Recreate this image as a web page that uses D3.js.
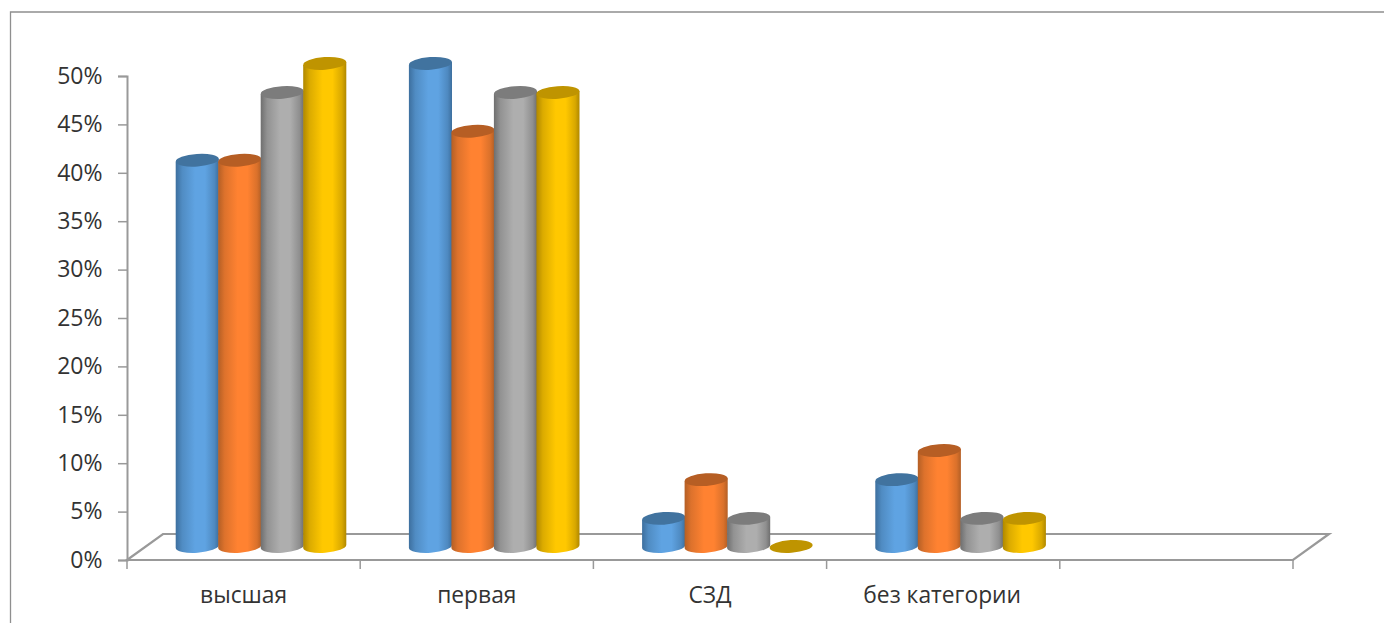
<!DOCTYPE html>
<html><head><meta charset="utf-8">
<script src="https://cdn.jsdelivr.net/npm/d3@7"></script>
<style>html,body{margin:0;padding:0;background:#fff}svg{display:block}
text{font-family:"Open Sans",sans-serif;fill:#333}</style></head>
<body><svg id="c" width="1384" height="623"></svg>
<script>
const categories=["высшая","первая","СЗД","без категории",""];
const seriesBlue=[40,50,3,7];
const seriesOrange=[40,43,7,10];
const seriesGray=[47,47,3,3];
const seriesYellow=[50,47,0,3];
const tickValues=[0,5,10,15,20,25,30,35,40,45,50];
const seriesList=[seriesBlue,seriesOrange,seriesGray,seriesYellow];
const colors=[
 {mid:"#5fa3e2",edge:"#3d6f9e",top:"#41739f"},
 {mid:"#ff8231",edge:"#b45f25",top:"#b65e24"},
 {mid:"#aeaeae",edge:"#6f6f6f",top:"#7c7c7c"},
 {mid:"#ffc800",edge:"#b08800",top:"#bf9400"}];
const svg=d3.select("#c");
const axis="#999";
svg.append("path").attr("d","M1384,12H10.5V623").attr("fill","none").attr("stroke","#8f8f8f").attr("stroke-width",1.3);
const x=d3.scaleBand().domain(d3.range(categories.length)).range([127,1293]);
const y=d3.scaleLinear().domain([0,50]).range([560,76]);
const depthX=36,depthY=26,barDepthX=17.5,barDepthY=13.6;
const inner=d3.scaleBand().domain(d3.range(4)).range([31.5,201.5]);
const defs=svg.append("defs");
colors.forEach((c,i)=>{
 const g=defs.append("linearGradient").attr("id","g"+i);
 [[0,c.edge],[.15,d3.interpolateRgb(c.edge,c.mid)(.55)],[.45,c.mid],[.68,c.mid],[.9,d3.interpolateRgb(c.edge,c.mid)(.5)],[1,c.edge]]
  .forEach(s=>g.append("stop").attr("offset",s[0]).attr("stop-color",s[1]));
});
// floor
const x0=x.range()[0],x1=x.range()[1],y0=y(0),by=y0-depthY;
svg.append("path").attr("d",`M${x0},${y0}L${x0+depthX},${by}H${x1+depthX}L${x1},${y0}Z`).attr("fill","none").attr("stroke",axis).attr("stroke-width",2.2);
// y axis
const yAxis=svg.append("g").attr("transform",`translate(${x0},0)`).call(d3.axisLeft(y).tickValues(tickValues).tickFormat(d=>d+"%").tickSize(9).tickPadding(15.5));
yAxis.selectAll("path,line").attr("stroke",axis);
yAxis.select("path").attr("stroke-width",2);
yAxis.selectAll("line").attr("stroke-width",1.5);
yAxis.selectAll("text").attr("font-size",23).attr("font-family",'"Open Sans",sans-serif').style("fill","#333");
// x axis
const xAxis=svg.append("g").attr("transform",`translate(0,${y0})`);
x.domain().concat([categories.length]).forEach(i=>{
 const px=i<categories.length?x(i):x1;
 xAxis.append("line").attr("x1",px).attr("x2",px).attr("y1",0).attr("y2",9).attr("stroke",axis).attr("stroke-width",1.5);
});
categories.forEach((c,i)=>{
 svg.append("text").attr("x",x(i)+x.bandwidth()/2-(i==3?1:0)).attr("y",603).attr("text-anchor","middle").attr("font-size",22.8).text(c);
});
// cylinders
const ry=6.3,tilt=-4;
d3.range(categories.length-1).forEach(ci=>{
 seriesList.forEach((s,si)=>{
  const v=s[ci],c=colors[si];
  const bw=inner.bandwidth();
  const left=x(ci)+inner(si)+barDepthX,rx=bw/2+.3,cx=left+bw/2;
  const base=y(0)-barDepthY,top=y(v)-barDepthY+(v>0?1:0);
  const dy=rx*Math.sin(-tilt*Math.PI/180);
  const g=svg.append("g");
  if(v>0){
   g.append("path")
    .attr("d",`M${cx-rx},${top+dy}L${cx-rx},${base+dy}A${rx},${ry} ${tilt} 0 0 ${cx+rx},${base-dy}L${cx+rx},${top-dy}Z`)
    .attr("fill",`url(#g${si})`);
  }
  g.append("ellipse").attr("cx",cx).attr("cy",top).attr("rx",rx).attr("ry",ry)
   .attr("transform",`rotate(${tilt} ${cx} ${top})`).attr("fill",c.top);
 });
});
</script></body></html>
